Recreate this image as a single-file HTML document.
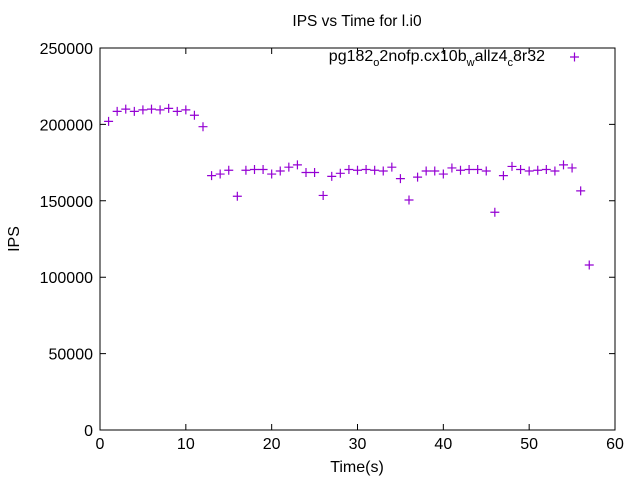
<!DOCTYPE html>
<html><head><meta charset="utf-8"><style>
html,body{margin:0;padding:0;background:#fff;}
svg{display:block;font-family:"Liberation Sans",sans-serif;}
</style></head><body>
<svg id="chart" width="640" height="480" xmlns="http://www.w3.org/2000/svg">
<rect width="640" height="480" fill="#fff"/>
<text x="357" y="26" font-size="15.5" text-anchor="middle">IPS vs Time for l.i0</text>
<rect x="100" y="48" width="515" height="382" fill="none" stroke="#000" stroke-width="1"/>
<g id="xticks"></g>
<g id="yticks"></g>
<text x="357" y="472" font-size="16" text-anchor="middle">Time(s)</text>
<text transform="translate(19,239) rotate(-90)" font-size="16" text-anchor="middle">IPS</text>
<text x="545" y="61" font-size="16" text-anchor="end">pg182<tspan font-size="11" dy="5">o</tspan><tspan dy="-5">2nofp.cx10b</tspan><tspan font-size="11" dy="5">w</tspan><tspan dy="-5">allz4</tspan><tspan font-size="11" dy="5">c</tspan><tspan dy="-5">8r32</tspan></text>
<path d="M570,57h9M574.5,52.5v9" stroke="#9400d3" stroke-width="1.2"/>
<g id="points"></g>
</svg>
<script>
const times = [1,2,3,4,5,6,7,8,9,10,11,12,13,14,15,16,17,18,19,20,21,22,23,24,25,26,27,28,29,30,31,32,33,34,35,36,37,38,39,40,41,42,43,44,45,46,47,48,49,50,51,52,53,54,55,56,57];
const ips = [202000,208500,210000,208500,209500,210000,209500,210500,208500,209500,206000,198500,166500,167500,170000,153000,170000,170500,170500,167500,169500,172000,173500,168500,168500,153500,166000,168000,170500,170000,170500,170000,169500,172000,164500,150500,165500,169500,169500,167500,171500,170000,170500,170500,169500,142500,166500,172500,170500,169500,170000,170500,169500,173500,171500,156500,108000];
const xTicks = [0,10,20,30,40,50,60];
const yTicks = [0,50000,100000,150000,200000,250000];
const NS="http://www.w3.org/2000/svg";
const X0=100,X1=615,Y0=430,Y1=48;
function xs(v){return X0+(v-0)/(60-0)*(X1-X0);}
function ys(v){return Y0-(v-0)/(250000-0)*(Y0-Y1);}
const xg=document.getElementById('xticks'),yg=document.getElementById('yticks'),pg=document.getElementById('points');
xTicks.forEach(t=>{
  const x=xs(t);
  const p=document.createElementNS(NS,'path');
  p.setAttribute('d',`M${x},${Y0}v-6M${x},${Y1}v6`);p.setAttribute('stroke','#000');
  
  
  xg.appendChild(p);
  const tx=document.createElementNS(NS,'text');
  tx.setAttribute('x',x);tx.setAttribute('y',449);tx.setAttribute('font-size','16');tx.setAttribute('text-anchor','middle');
  tx.textContent=t;
  
  
  xg.appendChild(tx);
});
yTicks.forEach(t=>{
  const y=ys(t);
  const p=document.createElementNS(NS,'path');
  p.setAttribute('d',`M${X0},${y}h6M${X1},${y}h-6`);p.setAttribute('stroke','#000');
  
  
  yg.appendChild(p);
  const tx=document.createElementNS(NS,'text');
  tx.setAttribute('x',93);tx.setAttribute('y',y+6);tx.setAttribute('font-size','16');tx.setAttribute('text-anchor','end');
  tx.textContent=t;
  
  
  yg.appendChild(tx);
});
times.forEach((t,i)=>{
  const x=xs(t),y=ys(ips[i]);
  const p=document.createElementNS(NS,'path');
  p.setAttribute('d',`M${x-4.5},${y}h9M${x},${y-4.5}v9`);
  p.setAttribute('stroke','#9400d3');p.setAttribute('stroke-width','1.2');
  
  
  pg.appendChild(p);
});
</script>
</body></html>
